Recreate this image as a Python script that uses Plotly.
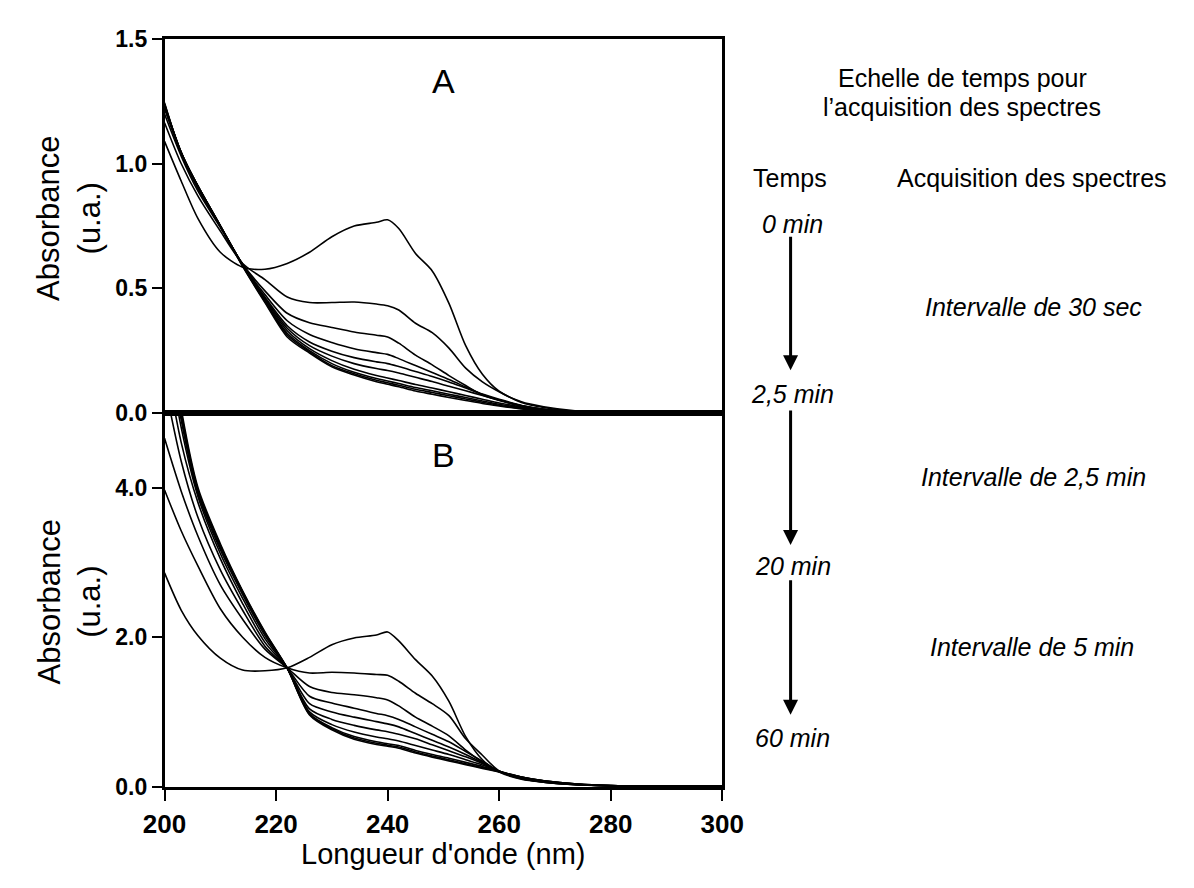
import plotly.graph_objects as go

# wavelength grid (nm) used for every spectrum
wavelength = [200, 203, 206, 210, 214, 218, 222, 226, 230, 234, 238, 240, 242,
              245, 248, 251, 254, 257, 260, 264, 268, 274, 280, 290, 300]

# panel A spectra (absorbance, u.a.)
a_s1 = [1.09, 0.93, 0.78, 0.645, 0.585, 0.577, 0.60, 0.645, 0.707, 0.75, 0.765, 0.775, 0.74,
        0.64, 0.57, 0.44, 0.27, 0.155, 0.087, 0.045, 0.025, 0.008, 0.002, 0.0, 0.0]
a_s2 = [1.165, 1.0, 0.87, 0.73, 0.60, 0.535, 0.465, 0.443, 0.443, 0.445, 0.437, 0.43, 0.413,
        0.36, 0.322, 0.26, 0.18, 0.125, 0.085, 0.042, 0.022, 0.006, 0.001, 0.0, 0.0]
a_s3 = [1.20, 1.03, 0.89, 0.745, 0.598, 0.49, 0.40, 0.362, 0.343, 0.325, 0.312, 0.305, 0.28,
        0.232, 0.193, 0.15, 0.11, 0.072, 0.05, 0.028, 0.015, 0.005, 0.001, 0.0, 0.0]
a_s4 = [1.22, 1.04, 0.90, 0.748, 0.596, 0.475, 0.37, 0.315, 0.283, 0.258, 0.242, 0.235, 0.218,
        0.19, 0.162, 0.134, 0.104, 0.074, 0.052, 0.03, 0.015, 0.005, 0.001, 0.0, 0.0]
a_s5 = [1.23, 1.045, 0.905, 0.75, 0.595, 0.465, 0.35, 0.285, 0.248, 0.222, 0.205, 0.198, 0.186,
        0.166, 0.146, 0.124, 0.1, 0.076, 0.055, 0.03, 0.015, 0.005, 0.001, 0.0, 0.0]
a_s6 = [1.23, 1.045, 0.907, 0.75, 0.594, 0.46, 0.34, 0.27, 0.228, 0.198, 0.178, 0.17, 0.16,
        0.143, 0.126, 0.107, 0.089, 0.07, 0.052, 0.029, 0.014, 0.005, 0.001, 0.0, 0.0]
a_s7 = [1.235, 1.045, 0.91, 0.752, 0.593, 0.455, 0.33, 0.258, 0.21, 0.175, 0.15, 0.14, 0.13,
        0.114, 0.1, 0.085, 0.07, 0.055, 0.04, 0.024, 0.012, 0.004, 0.001, 0.0, 0.0]
a_s8 = [1.24, 1.045, 0.91, 0.752, 0.592, 0.45, 0.32, 0.25, 0.198, 0.163, 0.138, 0.128, 0.118,
        0.102, 0.089, 0.075, 0.062, 0.048, 0.035, 0.021, 0.011, 0.004, 0.001, 0.0, 0.0]
a_s9 = [1.24, 1.04, 0.91, 0.75, 0.59, 0.447, 0.313, 0.245, 0.19, 0.157, 0.131, 0.121, 0.111,
        0.095, 0.082, 0.069, 0.056, 0.043, 0.031, 0.018, 0.009, 0.003, 0.001, 0.0, 0.0]
a_s10 = [1.245, 1.04, 0.91, 0.75, 0.588, 0.443, 0.305, 0.24, 0.185, 0.152, 0.125, 0.115, 0.105,
         0.088, 0.075, 0.062, 0.05, 0.038, 0.028, 0.016, 0.008, 0.003, 0.001, 0.0, 0.0]

# panel B spectra (absorbance, u.a.)
b_s1 = [2.86, 2.36, 2.02, 1.72, 1.56, 1.55, 1.59, 1.73, 1.90, 1.99, 2.03, 2.07, 1.95,
        1.70, 1.48, 1.14, 0.67, 0.36, 0.195, 0.10, 0.06, 0.025, 0.01, 0.004, 0.003]
b_s2 = [3.97, 3.42, 2.95, 2.38, 2.0, 1.73, 1.59, 1.52, 1.53, 1.52, 1.50, 1.49, 1.41,
        1.25, 1.11, 0.95, 0.64, 0.42, 0.21, 0.11, 0.06, 0.025, 0.01, 0.004, 0.003]
b_s3 = [4.66, 3.95, 3.35, 2.70, 2.24, 1.84, 1.59, 1.34, 1.26, 1.23, 1.19, 1.16, 1.08,
        0.93, 0.81, 0.68, 0.49, 0.33, 0.205, 0.105, 0.06, 0.025, 0.01, 0.004, 0.003]
b_s4 = [5.4, 4.35, 3.6, 2.9, 2.36, 1.88, 1.585, 1.21, 1.12, 1.05, 0.98, 0.95, 0.9,
        0.8, 0.7, 0.6, 0.47, 0.34, 0.205, 0.11, 0.065, 0.027, 0.011, 0.005, 0.003]
b_s5 = [5.8, 4.6, 3.8, 3.05, 2.45, 1.93, 1.585, 1.11, 1.0, 0.93, 0.87, 0.84, 0.8,
        0.71, 0.62, 0.53, 0.43, 0.32, 0.205, 0.115, 0.068, 0.028, 0.012, 0.005, 0.004]
b_s6 = [6.1, 4.8, 3.88, 3.12, 2.52, 1.98, 1.585, 1.04, 0.9, 0.82, 0.76, 0.735, 0.70,
        0.64, 0.56, 0.48, 0.40, 0.31, 0.205, 0.12, 0.07, 0.03, 0.013, 0.006, 0.004]
b_s7 = [6.3, 4.9, 3.92, 3.17, 2.57, 2.02, 1.585, 1.0, 0.83, 0.73, 0.665, 0.64, 0.61,
        0.55, 0.49, 0.43, 0.36, 0.29, 0.205, 0.125, 0.075, 0.032, 0.014, 0.006, 0.004]
b_s8 = [6.4, 4.95, 3.95, 3.2, 2.6, 2.05, 1.585, 0.98, 0.79, 0.67, 0.6, 0.575, 0.55,
        0.485, 0.43, 0.38, 0.325, 0.27, 0.205, 0.13, 0.08, 0.035, 0.015, 0.007, 0.005]
b_s9 = [6.5, 5.0, 3.97, 3.23, 2.61, 2.06, 1.585, 0.97, 0.775, 0.65, 0.58, 0.555, 0.53,
        0.465, 0.41, 0.36, 0.305, 0.255, 0.2, 0.13, 0.08, 0.035, 0.015, 0.007, 0.005]
b_s10 = [6.6, 5.05, 4.0, 3.25, 2.62, 2.07, 1.585, 0.96, 0.76, 0.635, 0.565, 0.54, 0.515,
         0.45, 0.395, 0.345, 0.295, 0.245, 0.195, 0.13, 0.08, 0.035, 0.015, 0.007, 0.005]

spectra_a = [a_s1, a_s2, a_s3, a_s4, a_s5, a_s6, a_s7, a_s8, a_s9, a_s10]
spectra_b = [b_s1, b_s2, b_s3, b_s4, b_s5, b_s6, b_s7, b_s8, b_s9, b_s10]

x_ticks = [200, 220, 240, 260, 280, 300]
ya_ticks = [0.0, 0.5, 1.0, 1.5]
yb_ticks = [0.0, 2.0, 4.0]

W, H = 1194, 888
fig = go.Figure()

line_style = dict(color="black", width=1.6, shape="spline", smoothing=0.8)
for ys in spectra_a:
    fig.add_trace(go.Scatter(x=wavelength, y=ys, mode="lines", line=line_style,
                             xaxis="x", yaxis="y", showlegend=False, hoverinfo="skip"))
for ys in spectra_b:
    fig.add_trace(go.Scatter(x=wavelength, y=ys, mode="lines", line=line_style,
                             xaxis="x2", yaxis="y2", showlegend=False, hoverinfo="skip"))

xdom = [148 / W, 727 / W]
ytick_font = dict(family="Liberation Sans, Arial", size=23, color="black", weight="bold")
xtick_font = dict(family="Liberation Sans, Arial", size=26, color="black", weight="bold")
common = dict(showgrid=False, zeroline=False, showline=True, linecolor="black",
              linewidth=2.5, mirror=True)

fig.update_layout(
    width=W, height=H,
    margin=dict(l=0, r=0, t=0, b=0),
    paper_bgcolor="white", plot_bgcolor="white",
    xaxis=dict(domain=xdom, range=[200, 300], anchor="y", showticklabels=False,
               ticks="", **common),
    yaxis=dict(domain=[1 - 412 / H, 1 - 27 / H], range=[0, 1.5], anchor="x",
               tickvals=ya_ticks, ticktext=[f"{v:.1f}" for v in ya_ticks],
               ticks="outside", ticklen=10, tickwidth=2, tickcolor="black",
               tickfont=ytick_font, **common),
    xaxis2=dict(domain=xdom, range=[200, 300], anchor="y2", tickvals=x_ticks,
                ticks="outside", ticklen=12, tickwidth=2, tickcolor="black",
                tickfont=xtick_font, **common),
    yaxis2=dict(domain=[1 - 797 / H, 1 - 412 / H], range=[0, 5.0], anchor="x2",
                tickvals=yb_ticks, ticktext=[f"{v:.1f}" for v in yb_ticks],
                ticks="outside", ticklen=10, tickwidth=2, tickcolor="black",
                tickfont=ytick_font, **common),
)

ylab_font = dict(family="Liberation Sans, Arial", size=31, color="black")
regular = dict(family="Liberation Sans, Arial", size=25, color="black")
italic = dict(family="Liberation Sans, Arial", size=25, color="black", style="italic")
letter_font = dict(family="Liberation Sans, Arial", size=34, color="black")

ann = []
ann.append(dict(text="A", xref="x", yref="y", x=250, y=1.334, showarrow=False,
                font=letter_font, xanchor="center", yanchor="middle"))
ann.append(dict(text="B", xref="x2", yref="y2", x=250, y=4.44, showarrow=False,
                font=letter_font, xanchor="center", yanchor="middle"))
for yc in [212, 607]:
    ann.append(dict(text="Absorbance<br>(u.a.)", xref="paper", yref="paper",
                    x=49 / W, y=1 - yc / H, textangle=-90, showarrow=False,
                    font=ylab_font, xanchor="center", yanchor="middle"))
ann.append(dict(text="Longueur d'onde (nm)", xref="paper", yref="paper",
                x=437 / W, y=1 - 866 / H, showarrow=False, xanchor="center",
                yanchor="middle",
                font=dict(family="Liberation Sans, Arial", size=29, color="black")))

side_text = [
    ("Echelle de temps pour", 977, 67, regular),
    ("l\u2019acquisition des spectres", 976, 97, regular),
    ("Temps", 797, 170, regular),
    ("Acquisition des spectres", 1049, 170, regular),
    ("0 min", 800, 217, italic),
    ("2,5 min", 800, 393, italic),
    ("20 min", 800, 570, italic),
    ("60 min", 800, 747, italic),
    ("Intervalle de 30 sec", 1050, 303, italic),
    ("Intervalle de 2,5 min", 1050, 478, italic),
    ("Intervalle de 5 min", 1049, 653, italic),
]
for txt, xp, yp, f in side_text:
    ann.append(dict(text=txt, xref="paper", yref="paper", x=xp / W, y=1 - yp / H,
                    xanchor="center", yanchor="middle", showarrow=False, font=f))

for top, tip in [(233, 368), (412, 548), (587, 723)]:
    ann.append(dict(text="", xref="paper", yref="paper", x=798 / W, y=1 - tip / H,
                    ax=0, ay=-(tip - top), showarrow=True, arrowhead=2, arrowsize=1.0,
                    arrowwidth=3, arrowcolor="black"))

fig.update_layout(annotations=ann)
fig.write_html("out.html", config={"displayModeBar": False},
               post_script="document.body.style.margin='0';")
